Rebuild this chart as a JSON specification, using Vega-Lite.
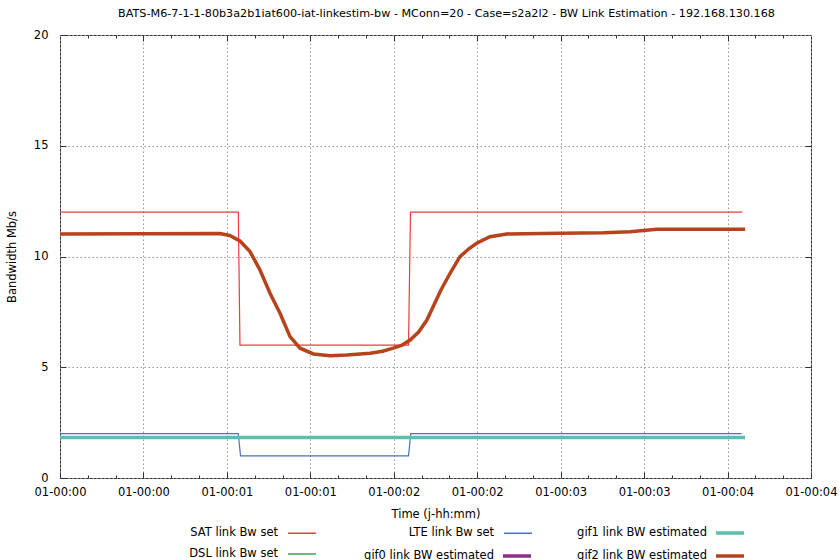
{
  "$schema": "https://vega.github.io/schema/vega-lite/v6.json",
  "width": 751,
  "height": 443,
  "autosize": "none",
  "padding": {"left": 60, "top": 35, "right": 28, "bottom": 82},
  "background": "white",
  "title": {
    "text": "BATS-M6-7-1-1-80b3a2b1iat600-iat-linkestim-bw - MConn=20 - Case=s2a2l2 - BW Link Estimation - 192.168.130.168",
    "fontSize": 11.2,
    "font": "DejaVu Sans",
    "fontWeight": "normal",
    "color": "#000000",
    "offset": 10,
    "dx": 11,
    "anchor": "middle"
  },
  "config": {
    "view": {"stroke": "#333333", "strokeWidth": 1},
    "font": "DejaVu Sans",
    "axis": {
      "labelFont": "DejaVu Sans",
      "labelFontSize": 11.5,
      "labelColor": "#000000",
      "titleFont": "DejaVu Sans",
      "titleFontSize": 11.5,
      "titleFontWeight": "normal",
      "titleColor": "#000000",
      "tickColor": "#333333",
      "domain": false,
      "gridColor": "#999999",
      "gridDash": [1.5, 2.5],
      "gridWidth": 1
    },
    "legend": {
      "orient": "none",
      "columns": 2,
      "direction": "horizontal",
      "title": null,
      "padding": 0,
      "symbolType": "stroke",
      "symbolSize": 784,
      "rowPadding": 0,
      "labelAlign": "right",
      "labelOffset": -39,
      "labelFontSize": 11.5,
      "labelFont": "DejaVu Sans",
      "labelColor": "#000000",
      "labelLimit": 300
    }
  },
  "datasets": {
    "d": [
      {"series": "SAT link Bw set", "t": 0, "v": 12},
      {"series": "SAT link Bw set", "t": 64.1, "v": 12},
      {"series": "SAT link Bw set", "t": 64.7, "v": 6},
      {"series": "SAT link Bw set", "t": 125.3, "v": 6},
      {"series": "SAT link Bw set", "t": 126.0, "v": 12},
      {"series": "SAT link Bw set", "t": 245.3, "v": 12},
      {"series": "DSL link Bw set", "t": 0, "v": 1.83},
      {"series": "DSL link Bw set", "t": 245.5, "v": 1.83},
      {"series": "LTE link Bw set", "t": 0, "v": 2},
      {"series": "LTE link Bw set", "t": 64.1, "v": 2},
      {"series": "LTE link Bw set", "t": 64.9, "v": 1},
      {"series": "LTE link Bw set", "t": 125.3, "v": 1},
      {"series": "LTE link Bw set", "t": 126.1, "v": 2},
      {"series": "LTE link Bw set", "t": 245.1, "v": 2},
      {"series": "gif1 link BW estimated", "t": 0, "v": 1.83},
      {"series": "gif1 link BW estimated", "t": 246.3, "v": 1.83},
      {"series": "gif2 link BW estimated", "t": 0, "v": 11.02},
      {"series": "gif2 link BW estimated", "t": 30, "v": 11.03},
      {"series": "gif2 link BW estimated", "t": 57.5, "v": 11.04},
      {"series": "gif2 link BW estimated", "t": 61, "v": 10.95},
      {"series": "gif2 link BW estimated", "t": 64.7, "v": 10.7},
      {"series": "gif2 link BW estimated", "t": 68.3, "v": 10.22},
      {"series": "gif2 link BW estimated", "t": 71.9, "v": 9.39},
      {"series": "gif2 link BW estimated", "t": 75.5, "v": 8.34},
      {"series": "gif2 link BW estimated", "t": 79.1, "v": 7.44},
      {"series": "gif2 link BW estimated", "t": 82.7, "v": 6.38},
      {"series": "gif2 link BW estimated", "t": 86.3, "v": 5.86},
      {"series": "gif2 link BW estimated", "t": 91.1, "v": 5.6},
      {"series": "gif2 link BW estimated", "t": 97.1, "v": 5.52},
      {"series": "gif2 link BW estimated", "t": 103.1, "v": 5.55},
      {"series": "gif2 link BW estimated", "t": 111.5, "v": 5.63},
      {"series": "gif2 link BW estimated", "t": 116, "v": 5.72},
      {"series": "gif2 link BW estimated", "t": 119.8, "v": 5.86},
      {"series": "gif2 link BW estimated", "t": 123, "v": 6.0},
      {"series": "gif2 link BW estimated", "t": 125.9, "v": 6.23},
      {"series": "gif2 link BW estimated", "t": 129, "v": 6.6},
      {"series": "gif2 link BW estimated", "t": 131.9, "v": 7.13},
      {"series": "gif2 link BW estimated", "t": 137, "v": 8.5},
      {"series": "gif2 link BW estimated", "t": 140.5, "v": 9.3},
      {"series": "gif2 link BW estimated", "t": 143.8, "v": 9.99},
      {"series": "gif2 link BW estimated", "t": 147, "v": 10.35},
      {"series": "gif2 link BW estimated", "t": 149.8, "v": 10.6},
      {"series": "gif2 link BW estimated", "t": 154.6, "v": 10.89},
      {"series": "gif2 link BW estimated", "t": 160.6, "v": 11.02},
      {"series": "gif2 link BW estimated", "t": 180, "v": 11.05},
      {"series": "gif2 link BW estimated", "t": 195.4, "v": 11.07},
      {"series": "gif2 link BW estimated", "t": 205, "v": 11.12},
      {"series": "gif2 link BW estimated", "t": 214.6, "v": 11.23},
      {"series": "gif2 link BW estimated", "t": 230, "v": 11.23},
      {"series": "gif2 link BW estimated", "t": 246.3, "v": 11.23}
    ]
  },
  "data": {"name": "d"},
  "resolve": {
    "axis": {"x": "independent", "y": "independent"},
    "scale": {"color": "independent"},
    "legend": {"color": "independent"}
  },
  "layer": [
    {
      "transform": [{"filter": {"field": "series", "oneOf": ["SAT link Bw set", "DSL link Bw set", "LTE link Bw set"]}}],
      "mark": {"type": "line", "strokeWidth": 1.2, "clip": true},
      "encoding": {
        "x": {
          "field": "t", "type": "quantitative",
          "scale": {"domain": [0, 270], "nice": false, "zero": false},
          "axis": {
            "orient": "bottom",
            "values": [0, 30, 60, 90, 120, 150, 180, 210, 240, 270],
            "labelExpr": "'01-00:0' + floor(datum.value / 60)",
            "grid": true,
            "tickSize": -6,
            "labelPadding": 14,
            "labelFlush": false,
            "title": "Time (j-hh:mm)",
            "titlePadding": 11
          }
        },
        "y": {
          "field": "v", "type": "quantitative",
          "scale": {"domain": [0, 20], "nice": false, "zero": true},
          "axis": {
            "orient": "left",
            "values": [0, 5, 10, 15, 20],
            "grid": true,
            "tickSize": -6,
            "labelPadding": 18,
            "title": "Bandwidth Mb/s",
            "titlePadding": 16
          }
        },
        "color": {
          "field": "series", "type": "nominal",
          "scale": {
            "domain": ["SAT link Bw set", "LTE link Bw set", "DSL link Bw set"],
            "range": ["#ee3b3b", "#4a6fd0", "#3ea055"]
          },
          "legend": {
            "orient": "none",
            "legendX": 227,
            "legendY": 483,
            "columns": 2,
            "columnPadding": 89,
            "symbolStrokeWidth": 1.5
          }
        }
      }
    },
    {
      "transform": [{"filter": {"field": "series", "oneOf": ["gif0 link BW estimated", "gif1 link BW estimated", "gif2 link BW estimated"]}}],
      "mark": {"type": "line", "strokeWidth": 3.5, "clip": true},
      "encoding": {
        "x": {
          "field": "t", "type": "quantitative",
          "axis": {
            "orient": "bottom",
            "values": [10, 20, 40, 50, 70, 80, 100, 110, 130, 140, 160, 170, 190, 200, 220, 230, 250, 260],
            "labels": false, "grid": false, "tickSize": -3, "title": null
          }
        },
        "y": {
          "field": "v", "type": "quantitative",
          "axis": {
            "orient": "right",
            "values": [5, 10, 15],
            "labels": false, "grid": false, "tickSize": -6, "title": null
          }
        },
        "color": {
          "field": "series", "type": "nominal",
          "scale": {
            "domain": [" ", "gif1 link BW estimated", "gif0 link BW estimated", "gif2 link BW estimated"],
            "range": ["transparent", "#5cbfa8", "#8b2f8b", "#b7431c"]
          },
          "legend": {
            "orient": "none",
            "legendX": 441,
            "legendY": 482,
            "columns": 2,
            "columnPadding": 39,
            "symbolStrokeWidth": 3.5
          }
        }
      }
    },
    {
      "mark": {"type": "line", "opacity": 0},
      "encoding": {
        "x": {
          "field": "t", "type": "quantitative",
          "axis": {
            "orient": "top",
            "values": [30, 60, 90, 120, 150, 180, 210, 240],
            "labels": false, "grid": false, "tickSize": -6, "title": null
          }
        },
        "y": {"field": "v", "type": "quantitative", "axis": null},
        "detail": {"field": "series"}
      }
    },
    {
      "mark": {"type": "line", "opacity": 0},
      "encoding": {
        "x": {
          "field": "t", "type": "quantitative",
          "axis": {
            "orient": "top",
            "values": [10, 20, 40, 50, 70, 80, 100, 110, 130, 140, 160, 170, 190, 200, 220, 230, 250, 260],
            "labels": false, "grid": false, "tickSize": -3, "title": null
          }
        },
        "y": {"field": "v", "type": "quantitative", "axis": null},
        "detail": {"field": "series"}
      }
    }
  ]
}
